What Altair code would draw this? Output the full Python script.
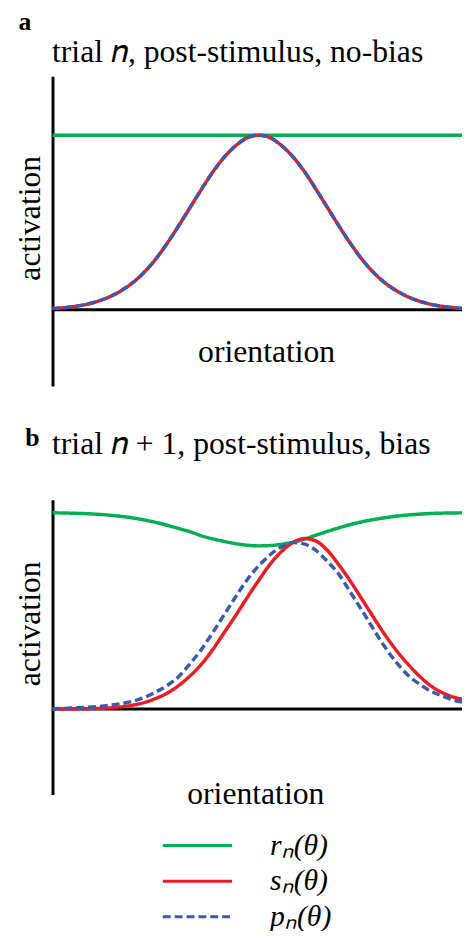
import altair as alt
import pandas as pd

# ---------------- data ----------------
ORIENTATION = [-90, -85, -80, -75, -70, -65, -60, -55, -50, -45, -40, -35, -30, -25, -20,
               -15, -10, -5, 0, 5, 10, 15, 20, 25, 30, 35, 40, 45, 50, 55, 60, 65, 70,
               75, 80, 85, 90]

SERIES = ["rₙ(θ)", "sₙ(θ)", "pₙ(θ)"]
COLORS = ["#00b050", "#ed1c24", "#3a5aad"]
DASHES = [[1, 0], [1, 0], [8, 4]]

# panel a: trial n, no bias
A_R = [1.0, 1.0, 1.0, 1.0, 1.0, 1.0, 1.0, 1.0, 1.0, 1.0, 1.0, 1.0, 1.0, 1.0, 1.0, 1.0,
       1.0, 1.0, 1.0, 1.0, 1.0, 1.0, 1.0, 1.0, 1.0, 1.0, 1.0, 1.0, 1.0, 1.0, 1.0, 1.0,
       1.0, 1.0, 1.0, 1.0, 1.0]
A_S = [0.007, 0.012, 0.020, 0.032, 0.050, 0.075, 0.110, 0.155, 0.215, 0.290, 0.380,
       0.480, 0.585, 0.690, 0.790, 0.875, 0.940, 0.985, 1.000, 0.985, 0.940, 0.875,
       0.790, 0.690, 0.585, 0.480, 0.380, 0.290, 0.215, 0.155, 0.110, 0.075, 0.050,
       0.032, 0.020, 0.012, 0.007]
A_P = [0.007, 0.012, 0.020, 0.032, 0.050, 0.075, 0.110, 0.155, 0.215, 0.290, 0.380,
       0.480, 0.585, 0.690, 0.790, 0.875, 0.940, 0.985, 1.000, 0.985, 0.940, 0.875,
       0.790, 0.690, 0.585, 0.480, 0.380, 0.290, 0.215, 0.155, 0.110, 0.075, 0.050,
       0.032, 0.020, 0.012, 0.007]

# panel b: trial n+1, bias
B_R = [1.151, 1.150, 1.148, 1.146, 1.142, 1.137, 1.130, 1.121, 1.109, 1.095, 1.078,
       1.059, 1.040, 1.016, 0.998, 0.983, 0.970, 0.961, 0.957, 0.959, 0.967, 0.979,
       0.997, 1.020, 1.042, 1.063, 1.082, 1.098, 1.111, 1.122, 1.131, 1.138, 1.143,
       1.147, 1.149, 1.150, 1.151]
B_S = [0.000, 0.000, 0.001, 0.002, 0.004, 0.007, 0.013, 0.023, 0.038, 0.062, 0.093,
       0.137, 0.194, 0.263, 0.350, 0.450, 0.550, 0.655, 0.755, 0.850, 0.925, 0.977,
       1.000, 0.985, 0.930, 0.845, 0.750, 0.645, 0.540, 0.437, 0.345, 0.265, 0.195,
       0.137, 0.097, 0.070, 0.056]
B_P = [0.002, 0.004, 0.007, 0.010, 0.015, 0.022, 0.032, 0.046, 0.068, 0.100, 0.138,
       0.190, 0.265, 0.350, 0.450, 0.555, 0.660, 0.760, 0.840, 0.905, 0.952, 0.976,
       0.967, 0.930, 0.865, 0.790, 0.685, 0.580, 0.470, 0.365, 0.275, 0.200, 0.148,
       0.105, 0.077, 0.053, 0.037]

BASELINE = [0.0]

FONT = "Liberation Serif"


def frame(r, s, p):
    rows = []
    for name, vals in zip(SERIES, [r, s, p]):
        for x, v in zip(ORIENTATION, vals):
            rows.append({"orientation": x, "activation": v, "series": name})
    return pd.DataFrame(rows)


legend = alt.Legend(
    title=None, orient="none", legendX=110, legendY=760,
    symbolType="stroke", symbolSize=4900, symbolStrokeWidth=3,
    labelFont=FONT, labelFontSize=30, labelFontStyle="italic",
    labelColor="black", labelOffset=37, clipHeight=35.5, rowPadding=0, padding=0,
)
color = alt.Color("series:N", scale=alt.Scale(domain=SERIES, range=COLORS), legend=legend)
dash = alt.StrokeDash("series:N", scale=alt.Scale(domain=SERIES, range=DASHES), legend=legend)

NOAX = dict(grid=False, ticks=False, labels=False, domain=False)


def panel(df, ydom, width, height, tag, tag_x, tag_y, head, head_x, head_y,
          ytitle_x, ytitle_y, xtitle_x, xtitle_y):
    xs = alt.Scale(domain=[-90, 90], nice=False, zero=False)
    ys = alt.Scale(domain=ydom, nice=False, zero=False)

    rule = alt.Chart(pd.DataFrame({"baseline": BASELINE})).mark_rule(
        color="black", strokeWidth=3
    ).encode(
        y=alt.Y("baseline:Q", scale=ys, axis=alt.Axis(
            orient="right", title=tag, titleX=tag_x, titleY=tag_y, titleAngle=0,
            titleAlign="left", titleBaseline="alphabetic", titleFont=FONT,
            titleFontSize=26, titleFontWeight="bold", titleColor="black", **NOAX)),
    )

    def line(name):
        return alt.Chart(df).transform_filter(
            alt.datum.series == name
        ).mark_line(strokeWidth=3.5, interpolate="monotone")

    green = line(SERIES[0]).encode(
        x=alt.X("orientation:Q", scale=xs, axis=alt.Axis(
            orient="bottom", title="orientation", titleX=xtitle_x, titleY=xtitle_y,
            titleAlign="center", titleBaseline="alphabetic", titleFont=FONT,
            titleFontSize=32, titleFontWeight="normal", titleColor="black", **NOAX)),
        y=alt.Y("activation:Q", scale=ys, axis=alt.Axis(
            orient="left", title="activation", titleX=ytitle_x, titleY=ytitle_y,
            titleAngle=-90, titleAlign="center", titleBaseline="middle",
            titleFont=FONT, titleFontSize=32, titleFontWeight="normal",
            titleColor="black", grid=False, ticks=False, labels=False, domain=True,
            domainColor="black", domainWidth=3)),
        color=color, strokeDash=dash,
    )
    red = line(SERIES[1]).encode(
        x=alt.X("orientation:Q", scale=xs, axis=alt.Axis(
            orient="top", title=head, titleX=head_x, titleY=head_y,
            titleAlign="left", titleBaseline="alphabetic", titleFont=FONT,
            titleFontSize=32, titleFontWeight="normal", titleColor="black", **NOAX)),
        y=alt.Y("activation:Q", scale=ys, axis=None),
        color=color, strokeDash=dash,
    )
    blue = line(SERIES[2]).encode(
        x=alt.X("orientation:Q", scale=xs, axis=None),
        y=alt.Y("activation:Q", scale=ys, axis=None),
        color=color, strokeDash=dash,
    )
    return alt.layer(rule, green, red, blue).resolve_axis(
        x="independent", y="independent"
    ).properties(width=width, height=height)


panel_a = panel(frame(A_R, A_S, A_P), [-0.436, 1.337], 417, 313,
                "a", -452, -47, "trial 𝑛, post-stimulus, no-bias", -1, -15,
                -23, 143, 216, -25)
panel_b = panel(frame(B_R, B_S, B_P), [-0.5006, 1.228], 417, 298,
                "b", -445, -55, "trial 𝑛 + 1, post-stimulus, bias", -1, -47,
                -23, 125, 205, 9)

chart = alt.vconcat(panel_a, panel_b, spacing=115, bounds="flush").resolve_scale(
    x="independent", y="independent", color="shared", strokeDash="shared"
).configure_view(stroke=None).properties(
    padding={"left": 6, "top": -4, "right": -10, "bottom": -9}
)

chart.save("out.html", embed_options={"renderer": "svg", "actions": False})
